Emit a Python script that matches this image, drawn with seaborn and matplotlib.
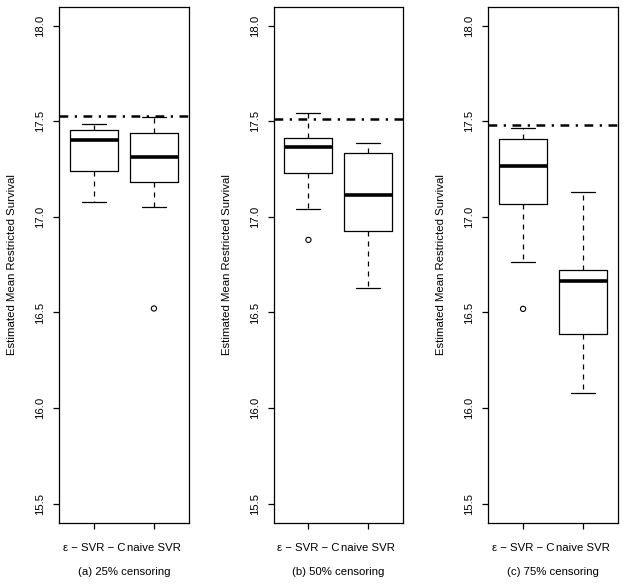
import numpy as np
import pandas as pd
import matplotlib
matplotlib.use("Agg")
import matplotlib.pyplot as plt
import seaborn as sns

# ---------------- data ----------------
captions = ["(a) 25% censoring", "(b) 50% censoring", "(c) 75% censoring"]
methods = ["\u03b5 \u2212 SVR \u2212 C", "naive SVR"]

lower_whisker = [[17.078, 17.054], [17.042, 16.630], [16.763, 16.080]]
q1 = [[17.238, 17.185], [17.232, 16.928], [17.068, 16.385]]
median = [[17.400, 17.312], [17.366, 17.113], [17.265, 16.667]]
q3 = [[17.453, 17.437], [17.415, 17.333], [17.409, 16.721]]
upper_whisker = [[17.488, 17.525], [17.542, 17.387], [17.468, 17.130]]
outliers = [[[], [16.521]], [[16.880], []], [[16.519], []]]
true_value = [17.530, 17.514, 17.482]

y_ticks = [15.5, 16.0, 16.5, 17.0, 17.5, 18.0]
y_label = "Estimated Mean Restricted Survival"

# ---------------- style ----------------
sns.set_theme(style="white")
plt.rcParams['font.family'] = ['Liberation Sans', 'DejaVu Sans']
plt.rcParams['axes.edgecolor'] = 'black'
plt.rcParams['axes.linewidth'] = 0.9

FS = 8.2
fig = plt.figure(figsize=(6.25, 5.85), dpi=100)

lefts = [0.0949, 0.4379, 0.7813]
bottom, height, width = 0.1065, 0.882, 0.207

for i in range(3):
    ax = fig.add_axes([lefts[i], bottom, width, height])
    stats = []
    for j in range(len(methods)):
        stats.append(dict(med=median[i][j], q1=q1[i][j], q3=q3[i][j],
                          whislo=lower_whisker[i][j], whishi=upper_whisker[i][j],
                          fliers=[]))
    ax.bxp(stats, positions=[1, 2], widths=0.8, capwidths=0.4,
           showfliers=False, patch_artist=False,
           boxprops=dict(color='black', lw=0.9),
           whiskerprops=dict(color='black', lw=0.9, linestyle=(0, (4, 4))),
           capprops=dict(color='black', lw=0.9),
           medianprops=dict(color='black', lw=2.6, solid_capstyle='butt'))

    rows = [(j + 1, v) for j in range(len(methods)) for v in outliers[i][j]]
    if rows:
        df = pd.DataFrame(rows, columns=["pos", "value"])
        sns.scatterplot(data=df, x="pos", y="value", ax=ax, marker='o', s=14,
                        fc='none', ec='black', linewidth=0.8, zorder=3)

    ax.axhline(true_value[i], color='black', lw=1.8,
               linestyle=(0, (3.5, 2.6, 0.9, 2.6)), zorder=4)

    ax.set_xlim(0.42, 2.58)
    ax.set_ylim(15.4, 18.1)
    ax.set_xticks([1, 2])
    ax.set_xticklabels(methods)
    ax.set_yticks(y_ticks)
    ax.set_yticklabels([f"{t:.1f}" for t in y_ticks])
    ax.set_xlabel("")
    ax.tick_params(axis='both', direction='out', length=4.5, width=0.9,
                   colors='black', labelsize=FS, bottom=True, left=True)
    ax.tick_params(axis='y', labelrotation=90, pad=5.5)
    ax.tick_params(axis='x', pad=10)
    for lab in ax.get_yticklabels():
        lab.set_va('center')
    ax.set_ylabel(y_label, fontsize=FS, color='black')
    ax.yaxis.set_label_coords(-0.325, 0.5)
    for s in ax.spines.values():
        s.set_visible(True)
        s.set_color('black')
        s.set_linewidth(0.9)

    cx = lefts[i] + width / 2
    fig.text(cx, 1 - 572.3 / 585, captions[i], ha='center', va='center',
             fontsize=FS, color='black')

fig.savefig("out.png", dpi=100, facecolor='white')
